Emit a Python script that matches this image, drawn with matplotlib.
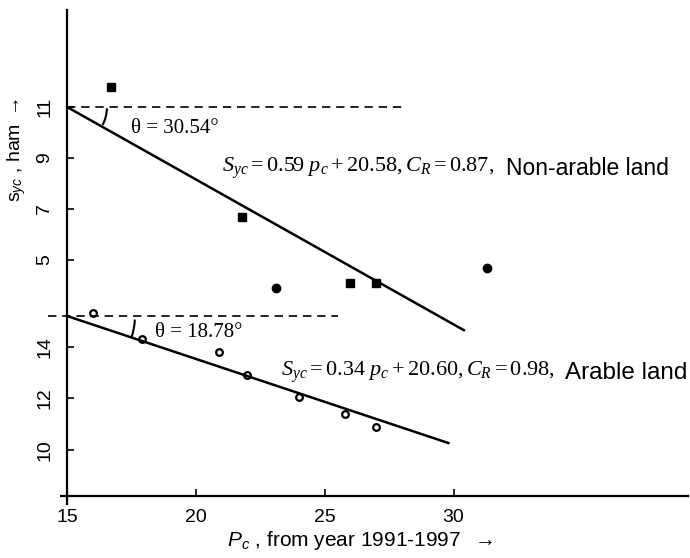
import matplotlib
matplotlib.use('Agg')
import matplotlib.pyplot as plt
from matplotlib.patches import Arc

plt.rcParams['font.family'] = ['Liberation Sans', 'DejaVu Sans']
plt.rcParams['mathtext.fontset'] = 'custom'
plt.rcParams['mathtext.rm'] = 'Liberation Serif'
plt.rcParams['mathtext.it'] = 'Liberation Serif:italic'
plt.rcParams['mathtext.bf'] = 'Liberation Serif:bold'
plt.rcParams['mathtext.sf'] = 'Liberation Sans:italic'

# Non-arable land (upper scale)
nonarable_x = [16.7, 21.8, 26.0, 27.0]
nonarable_y = [11.8, 6.7, 4.1, 4.1]
nonarable_round_x = [23.1, 31.3]
nonarable_round_y = [3.9, 4.7]
nonarable_fit_x = [15.0, 30.4]
nonarable_fit_y = [11.0, 2.25]
nonarable_ref_x = [15.0, 28.0]
nonarable_ref_y = 11.0
nonarable_angle = 30.54

# Arable land (lower scale)
arable_x = [16.0, 17.9, 20.9, 22.0, 24.0, 25.8, 27.0]
arable_y = [15.3, 14.3, 13.8, 12.9, 12.05, 11.4, 10.9]
arable_fit_x = [15.0, 29.8]
arable_fit_y = [15.2, 10.26]
arable_ref_x = [14.25, 25.5]
arable_ref_y = 15.2
arable_angle = 18.78

x_ticks = [15, 20, 25, 30]
upper_ticks = [5, 7, 9, 11]
lower_ticks = [10, 12, 14]

SERIF = ['Liberation Serif', 'DejaVu Serif']

fig = plt.figure(figsize=(6.9, 5.58), dpi=100)
ax = fig.add_axes([67 / 690, 62 / 558, 621 / 690, 486 / 558])
ax.set_xlim(15, 39.1)
ax.set_ylim(8.2, 27.1)
ax2 = ax.twinx()
ax2.set_ylim(-4.25, 14.8)

for a in (ax, ax2):
    a.patch.set_visible(False)
    for s in ('top', 'right'):
        a.spines[s].set_visible(False)
ax2.spines['left'].set_visible(False)
ax2.spines['bottom'].set_visible(False)
ax.spines['left'].set_linewidth(1.6)
ax.spines['bottom'].set_linewidth(1.6)

# little overshoot of the axes past the origin, as in the scan
ax.plot([14.72, 15], [8.2, 8.2], color='black', lw=1.6, clip_on=False,
        solid_capstyle='butt')
ax.plot([15, 15], [7.85, 8.2], color='black', lw=1.6, clip_on=False,
        solid_capstyle='butt')

ax.set_xticks(x_ticks)
ax.set_yticks(lower_ticks)
ax2.set_yticks(upper_ticks)
ax2.yaxis.set_ticks_position('left')
ax.tick_params(axis='x', direction='in', length=5, width=1.2, labelsize=14, pad=9)
ax.tick_params(axis='y', direction='in', length=5, width=1.2, labelsize=14, pad=10)
ax2.tick_params(axis='y', direction='in', length=5, width=1.2, labelsize=14, pad=10)
for lab in ax.get_yticklabels() + ax2.get_yticklabels():
    lab.set_rotation(90)
    lab.set_va('center')

# non-arable
ax2.plot(nonarable_x, nonarable_y, 's', color='black', markersize=6)
ax2.plot(nonarable_round_x, nonarable_round_y, 'o', color='black', markersize=6)
ax2.plot(nonarable_fit_x, nonarable_fit_y, color='black', lw=1.8)
ax2.plot(nonarable_ref_x, [nonarable_ref_y] * 2, color='black', lw=1.2,
         dashes=(5, 3.5))
ax2.add_patch(Arc((15, nonarable_ref_y), 2 * 40 / 25.8, 2 * 40 / 25.5,
                  theta1=-27, theta2=-2, color='black', lw=1.5))
ax2.text(17.5, 10.15, '\u03b8 = %.2f\u00b0' % nonarable_angle, family=SERIF,
         fontsize=15, va='center', ha='left')
eq1 = ax2.text(21.0, 8.6, r'$S_{yc} = 0.59\ p_c + 20.58, C_R = 0.87,$',
               fontsize=16, va='center', ha='left')
ax2.annotate('Non-arable land', xy=(1, 0.5), xycoords=eq1, xytext=(9, 0),
             textcoords='offset points', va='center', ha='left', fontsize=16.5)

# arable
ax.plot(arable_x, arable_y, 'o', markerfacecolor='white', markeredgecolor='black',
        markeredgewidth=1.6, markersize=4.8)
ax.plot(arable_fit_x, arable_fit_y, color='black', lw=1.8)
ax.plot(arable_ref_x, [arable_ref_y] * 2, color='black', lw=1.2,
        dashes=(5, 3.5), clip_on=False)
ax.add_patch(Arc((15, arable_ref_y), 2 * 68 / 25.8, 2 * 68 / 25.7,
                 theta1=-18, theta2=-3, color='black', lw=1.5))
ax.text(18.4, 14.55, '\u03b8 = %.2f\u00b0' % arable_angle, family=SERIF,
        fontsize=15, va='center', ha='left')
eq2 = ax.text(23.3, 13.0, r'$S_{yc} = 0.34\ p_c + 20.60, C_R = 0.98,$',
              fontsize=16, va='center', ha='left')
ax.annotate('Arable land', xy=(1, 0.5), xycoords=eq2, xytext=(7, 0),
            textcoords='offset points', va='center', ha='left', fontsize=17.5)

fig.text(17 / 690, 1 - 150 / 558, r's$_{\mathsf{yc}}$ , ham $\rightarrow$',
         rotation=90, ha='center', va='center', fontsize=14)
fig.text(360 / 690, 1 - 540 / 558, r'$\mathsf{P}_{\mathsf{c}}$ , from year 1991-1997  $\rightarrow$',
         ha='center', va='center', fontsize=15)

fig.savefig('out.png', dpi=100)
